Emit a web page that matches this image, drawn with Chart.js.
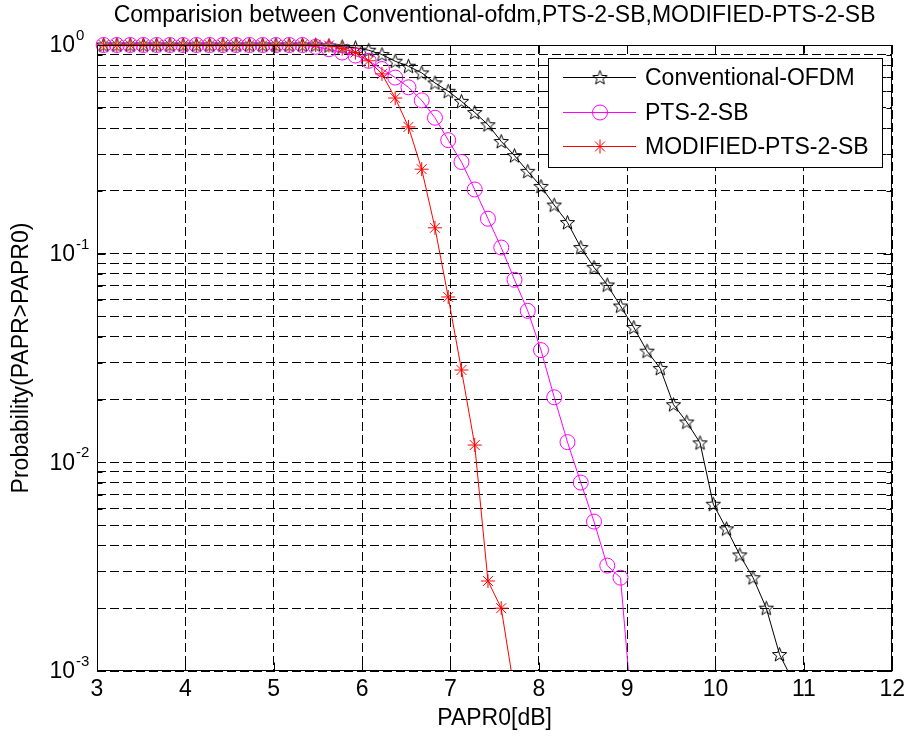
<!DOCTYPE html>
<html>
<head>
<meta charset="utf-8">
<title>PAPR CCDF</title>
<script src="https://cdn.jsdelivr.net/npm/chart.js@4.4.1/dist/chart.umd.min.js"></script>
<style>
  html, body { margin: 0; padding: 0; background: #fff; }
  #wrap { width: 910px; height: 738px; }
</style>
</head>
<body>
<div id="wrap"><canvas id="chart" width="910" height="738"></canvas></div>
<script>
// PAPR0 sample points (dB)
var papr0 = [3.075, 3.225, 3.375, 3.525, 3.675, 3.825, 3.975, 4.125, 4.275, 4.425,
             4.575, 4.725, 4.875, 5.025, 5.175, 5.325, 5.475, 5.625, 5.775, 5.925,
             6.075, 6.225, 6.375, 6.525, 6.675, 6.825, 6.975, 7.125, 7.275, 7.425,
             7.575, 7.725, 7.875, 8.025, 8.175, 8.325, 8.475, 8.625, 8.775, 8.925,
             9.075, 9.225, 9.375, 9.525, 9.675, 9.825, 9.975, 10.125, 10.275, 10.425,
             10.575, 10.725, 10.875];

// CCDF values, Probability(PAPR>PAPR0)
var conventional = [1, 1, 1, 1, 1, 1, 1, 1, 1, 1, 1, 1, 1, 1, 1, 1, 1,
                    0.99, 0.98, 0.97, 0.944, 0.90, 0.836, 0.791, 0.735, 0.658, 0.600,
                    0.537, 0.475, 0.415, 0.345, 0.295, 0.248, 0.21, 0.171, 0.141, 0.107,
                    0.086, 0.0708, 0.0561, 0.0443, 0.0341, 0.0282, 0.0189, 0.0156, 0.0124,
                    0.0063, 0.0048, 0.0036, 0.0028, 0.0020, 0.0012, 0.0009];
var pts2 = [1, 1, 1, 1, 1, 1, 1, 1, 1, 1, 1, 1, 1, 1, 1, 1,
            0.98, 0.955, 0.92, 0.89, 0.84, 0.767, 0.698, 0.627, 0.543, 0.448,
            0.35, 0.275, 0.203, 0.147, 0.107, 0.075, 0.0532, 0.0345, 0.0205,
            0.0125, 0.0080, 0.0052, 0.0032, 0.0028, 0.0005];
var modified = [1, 1, 1, 1, 1, 1, 1, 1, 1, 1, 1, 1, 1, 1, 1, 1, 1,
                0.995, 0.96, 0.92, 0.84, 0.727, 0.557, 0.405, 0.254, 0.133,
                0.062, 0.0277, 0.0121, 0.0027, 0.0020, 0.0008];

var seriesNames = ['Conventional-OFDM', 'PTS-2-SB', 'MODIFIED-PTS-2-SB'];
var xTicks = [3, 4, 5, 6, 7, 8, 9, 10, 11, 12];
var yDecades = [1, 0.1, 0.01, 0.001];
var yExponents = ['0', '-1', '-2', '-3'];
var titleText = 'Comparision between Conventional-ofdm,PTS-2-SB,MODIFIED-PTS-2-SB';

var FONT = 'Liberation Sans, Arial, Helvetica, sans-serif';
var FS = 23;

// minor grid values for the log axis (1..9 per decade)
var yGrid = [];
[0.001, 0.01, 0.1].forEach(function (d) {
    for (var m = 1; m < 10; m++) yGrid.push(+(d * m).toPrecision(3));
});
yGrid.push(1);

function toPoints(values) {
    var pts = [];
    values.forEach(function (v, i) {
        if (v != null) pts.push({ x: papr0[i], y: v });
    });
    return pts;
}

// open pentagram like matlab 'p'
function makePentagram(r, color) {
    var size = Math.ceil(r * 2 + 4);
    var c = document.createElement('canvas');
    c.width = size; c.height = size;
    var g = c.getContext('2d');
    var cx = size / 2, cy = size / 2 + 0.5;
    g.beginPath();
    for (var i = 0; i < 10; i++) {
        var rad = i % 2 === 0 ? r : r * 0.42;
        var a = -Math.PI / 2 + i * Math.PI / 5;
        var px = cx + rad * Math.cos(a), py = cy + rad * Math.sin(a);
        if (i === 0) g.moveTo(px, py); else g.lineTo(px, py);
    }
    g.closePath();
    g.strokeStyle = color;
    g.lineWidth = 1;
    g.stroke();
    return c;
}

var starImg = makePentagram(7.5, '#000');

function drawMarker(ctx, kind, x, y, color) {
    ctx.save();
    ctx.strokeStyle = color;
    ctx.lineWidth = 1;
    if (kind === 'pent') {
        ctx.drawImage(starImg, x - starImg.width / 2, y - starImg.height / 2);
    } else if (kind === 'circle') {
        ctx.beginPath();
        ctx.arc(x, y, 7.5, 0, Math.PI * 2);
        ctx.stroke();
    } else {
        var r = 7, d = r * Math.SQRT1_2;
        ctx.beginPath();
        ctx.moveTo(x - r, y); ctx.lineTo(x + r, y);
        ctx.moveTo(x, y - r); ctx.lineTo(x, y + r);
        ctx.moveTo(x - d, y - d); ctx.lineTo(x + d, y + d);
        ctx.moveTo(x - d, y + d); ctx.lineTo(x + d, y - d);
        ctx.stroke();
    }
    ctx.restore();
}

var decor = {
    id: 'decor',
    afterDraw: function (chart) {
        var ctx = chart.ctx, a = chart.chartArea;
        var xs = chart.scales.x, ys = chart.scales.y;
        var L = Math.round(a.left) + 0.5, R = Math.round(a.right) - 0.5;
        var T = Math.round(a.top) + 0.5, B = Math.round(a.bottom) - 0.5;
        ctx.save();

        // axes box
        ctx.strokeStyle = '#000';
        ctx.lineWidth = 1;
        ctx.setLineDash([]);
        ctx.strokeRect(L, T, R - L, B - T);

        // inward ticks
        ctx.beginPath();
        xTicks.forEach(function (v) {
            var px = Math.round(xs.getPixelForValue(v)) + 0.5;
            ctx.moveTo(px, B); ctx.lineTo(px, B - 8);
            ctx.moveTo(px, T); ctx.lineTo(px, T + 8);
        });
        yGrid.forEach(function (v) {
            var py = Math.round(ys.getPixelForValue(v)) + 0.5;
            var len = yDecades.indexOf(v) >= 0 ? 8 : 5;
            ctx.moveTo(L, py); ctx.lineTo(L + len, py);
            ctx.moveTo(R, py); ctx.lineTo(R - len, py);
        });
        ctx.stroke();

        // y tick labels 10^n
        ctx.fillStyle = '#000';
        yDecades.forEach(function (v, i) {
            var py = ys.getPixelForValue(v);
            ctx.font = FS + 'px ' + FONT;
            ctx.textAlign = 'right';
            ctx.textBaseline = 'middle';
            ctx.fillText('10', 75, py + 1);
            ctx.font = '15px ' + FONT;
            ctx.textAlign = 'left';
            ctx.textBaseline = 'alphabetic';
            ctx.fillText(yExponents[i], 76, py - 5);
        });

        // title
        ctx.font = FS + 'px ' + FONT;
        ctx.textAlign = 'center';
        ctx.textBaseline = 'middle';
        ctx.fillText(titleText, (a.left + a.right) / 2, 16);

        // legend
        var bx = 548.5, by = 58.5, bw = 334, bh = 109;
        ctx.fillStyle = '#fff';
        ctx.fillRect(bx, by, bw, bh);
        ctx.strokeRect(bx, by, bw, bh);
        var rows = [77, 112, 146];
        chart.data.datasets.forEach(function (ds, i) {
            var y = rows[i] + 0.5;
            ctx.strokeStyle = ds.borderColor;
            ctx.beginPath();
            ctx.moveTo(563, y); ctx.lineTo(636, y);
            ctx.stroke();
            drawMarker(ctx, ds.markerKind, 600, y, ds.borderColor);
            ctx.fillStyle = '#000';
            ctx.font = FS + 'px ' + FONT;
            ctx.textAlign = 'left';
            ctx.textBaseline = 'middle';
            ctx.fillText(ds.label, 645, y + 1);
        });
        ctx.restore();
    }
};

var clipBox = { left: 12, top: 12, right: 12, bottom: 0 };

var chart = new Chart(document.getElementById('chart'), {
    type: 'line',
    data: {
        datasets: [{
            label: seriesNames[0],
            data: toPoints(conventional),
            borderColor: '#000000',
            borderWidth: 1,
            pointStyle: starImg,
            pointRadius: 7,
            pointHoverRadius: 7,
            markerKind: 'pent',
            order: 3,
            clip: clipBox
        }, {
            label: seriesNames[1],
            data: toPoints(pts2),
            borderColor: '#ff00ff',
            borderWidth: 1,
            pointStyle: 'circle',
            pointRadius: 7.5,
            pointHoverRadius: 7.5,
            pointBorderWidth: 1,
            pointBackgroundColor: 'rgba(0,0,0,0)',
            markerKind: 'circle',
            order: 2,
            clip: clipBox
        }, {
            label: seriesNames[2],
            data: toPoints(modified),
            borderColor: '#ff0000',
            borderWidth: 1,
            pointStyle: 'star',
            pointRadius: 7,
            pointHoverRadius: 7,
            pointBorderWidth: 1,
            markerKind: 'aster',
            order: 1,
            clip: clipBox
        }]
    },
    options: {
        responsive: false,
        animation: false,
        devicePixelRatio: 1,
        layout: { padding: { top: 45, right: 17, left: 0, bottom: 0 } },
        elements: { line: { tension: 0 } },
        plugins: {
            legend: { display: false },
            tooltip: { enabled: false },
            title: { display: false }
        },
        scales: {
            x: {
                type: 'linear',
                min: 3,
                max: 12,
                afterBuildTicks: function (s) {
                    s.ticks = xTicks.map(function (v) { return { value: v }; });
                },
                afterFit: function (s) { s.height = 67; },
                ticks: {
                    color: '#000',
                    font: { family: FONT, size: FS },
                    padding: 5,
                    maxRotation: 0,
                    autoSkip: false
                },
                grid: { color: '#000', lineWidth: 1, drawTicks: false },
                border: { display: false, dash: [9, 4] },
                title: {
                    display: true,
                    text: 'PAPR0[dB]',
                    color: '#000',
                    font: { family: FONT, size: FS },
                    padding: { top: 0, bottom: 6 }
                }
            },
            y: {
                type: 'logarithmic',
                min: 0.001,
                max: 1,
                afterBuildTicks: function (s) {
                    s.ticks = yGrid.map(function (v) { return { value: v }; });
                },
                afterFit: function (s) { s.width = 97; },
                ticks: { display: false, autoSkip: false },
                grid: { color: '#000', lineWidth: 1, drawTicks: false },
                border: { display: false, dash: [9, 4] },
                title: {
                    display: true,
                    text: 'Probability(PAPR>PAPR0)',
                    color: '#000',
                    font: { family: FONT, size: FS },
                    padding: { top: 8, bottom: 0 }
                }
            }
        }
    },
    plugins: [decor]
});
</script>
</body>
</html>
